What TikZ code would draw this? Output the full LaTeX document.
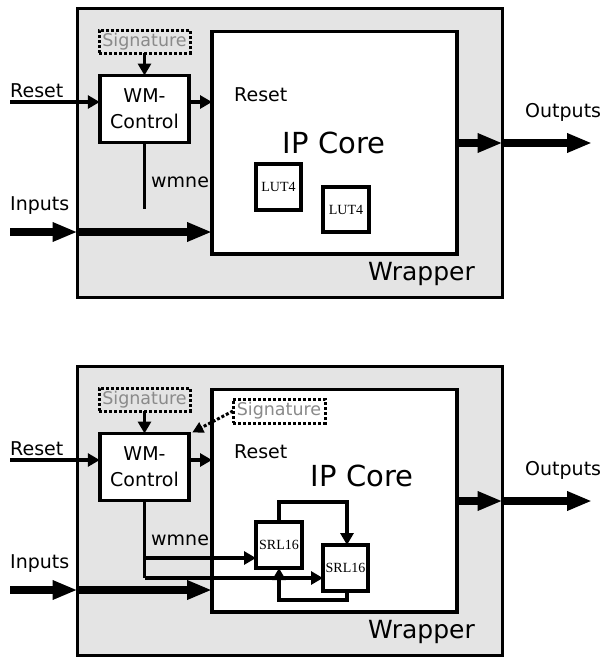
\documentclass[tikz,border=0pt]{standalone}
\usepackage{fontspec}
\setmainfont{DejaVu Sans}
\newfontfamily\cellfont{Liberation Serif}
\usetikzlibrary{arrows.meta}

\definecolor{wrapgray}{RGB}{228,228,228}
\definecolor{siggray}{RGB}{138,138,138}

\tikzset{
  frame/.style={draw, line width=3.6pt, inner sep=0pt, outer sep=0pt},
  wrapbox/.style={frame, fill=wrapgray},
  corebox/.style={frame, fill=white},
  ctrlbox/.style={frame, fill=white, align=center,
    font=\fontsize{19}{26}\selectfont},
  cellbox/.style={frame, fill=white, font=\cellfont\fontsize{14}{16}\selectfont},
  sigbox/.style={draw, line width=3pt, dash pattern=on 3pt off 2pt,
    inner sep=0pt, outer sep=0pt, text=siggray,
    font=\fontsize{17.5}{20}\selectfont},
  lbl/.style={inner sep=0pt, anchor=base west, font=\fontsize{19}{22}\selectfont},
  corelbl/.style={inner sep=0pt, anchor=base, font=\fontsize{29}{32}\selectfont},
  wraplbl/.style={inner sep=0pt, anchor=base west, font=\fontsize{25}{28}\selectfont},
  thin/.style={line width=3.6pt, -{Triangle[length=12pt,width=13pt]}},
  plain/.style={line width=3.6pt},
  bus/.style={line width=8.5pt, -{Triangle[length=25pt,width=18pt]}},
  dotarrow/.style={line width=3pt, dash pattern=on 3pt off 2pt,
    -{Triangle[length=11pt,width=11pt]}},
}

\begin{document}
\begin{tikzpicture}[x=1pt, y=-1pt]
\useasboundingbox (0,0) rectangle (602,657);

% ---------------- upper variant: LUT4 cells ----------------
\node[wrapbox, minimum width=425pt, minimum height=289pt] (wrapA) at (290,153) {};
\node[corebox, minimum width=245pt, minimum height=222.5pt] (ipA) at (334.5,142.75) {};
\node[sigbox, minimum width=91pt, minimum height=23pt] (sigA) at (144.5,41.5) {Signature};
\node[ctrlbox, minimum width=89.5pt, minimum height=67pt] (wmA) at (144.5,109) {WM-\\Control};
\node[cellbox, minimum width=45pt, minimum height=46pt] (lutA) at (278.5,187) {LUT4};
\node[cellbox, minimum width=46pt, minimum height=45pt] (lutB) at (346,209.5) {LUT4};

\node[lbl] (rstA) at (10,97) {Reset};
\node[lbl] (inpA) at (10,210) {Inputs};
\node[lbl] (outA) at (525,117) {Outputs};
\node[lbl] (iprA) at (234,101) {Reset};
\node[lbl] (wmneA) at (151,187) {wmne};
\node[corelbl] (coreA) at (334,153) {IP Core};
\node[wraplbl] (wrlA) at (368,280) {Wrapper};

\coordinate (rstinA) at (10,102);
\coordinate (ininA) at (10,232);
\coordinate (wmneendA) at (144.5,209);
\coordinate (outendA) at (592,143);

\draw[thin] (sigA.south) -- (wmA.north);
\draw[thin] (rstinA) -- (rstinA -| wmA.west);
\draw[thin] (rstinA -| wmA.east) -- (rstinA -| ipA.west);
\draw[plain] (wmA.south) -- (wmneendA);
\draw[bus] (ininA) -- (ininA -| wrapA.west);
\draw[bus] (ininA -| wrapA.west) -- (ininA -| ipA.west);
\draw[bus] (outendA -| ipA.east) -- (outendA -| wrapA.east);
\draw[bus] (outendA -| wrapA.east) -- (outendA);

% ---------------- lower variant: SRL16 cells ----------------
\node[wrapbox, minimum width=425pt, minimum height=289pt] (wrapB) at (290,511) {};
\node[corebox, minimum width=245pt, minimum height=222.5pt] (ipB) at (334.5,500.75) {};
\node[sigbox, minimum width=91pt, minimum height=23pt] (sigB) at (144.5,399.5) {Signature};
\node[sigbox, minimum width=92pt, minimum height=24pt] (sigC) at (279,411) {Signature};
\node[ctrlbox, minimum width=89.5pt, minimum height=67pt] (wmB) at (144.5,467) {WM-\\Control};
\node[cellbox, minimum width=46pt, minimum height=46pt] (srlA) at (279,545) {SRL16};
\node[cellbox, minimum width=45pt, minimum height=46pt] (srlB) at (345.5,568) {SRL16};

\node[lbl] (rstB) at (10,455) {Reset};
\node[lbl] (inpB) at (10,568) {Inputs};
\node[lbl] (outB) at (525,475) {Outputs};
\node[lbl] (iprB) at (234,458) {Reset};
\node[lbl] (wmneB) at (151,545) {wmne};
\node[corelbl] (coreB) at (362,486) {IP Core};
\node[wraplbl] (wrlB) at (368,638) {Wrapper};

\coordinate (rstinB) at (10,460);
\coordinate (ininB) at (10,590);
\coordinate (outendB) at (592,501);
\coordinate (wmnecA) at (144.5,558);
\coordinate (wmnecB) at (144.5,578);
\coordinate (loopTop) at (279,502);
\coordinate (loopBot) at (347,600);

\draw[thin] (sigB.south) -- (wmB.north);
\draw[dotarrow] (sigC.west) -- ([xshift=3pt,yshift=1pt]wmB.north east);
\draw[thin] (rstinB) -- (rstinB -| wmB.west);
\draw[thin] (rstinB -| wmB.east) -- (rstinB -| ipB.west);
\draw[plain] (wmB.south) -- (wmnecB);
\draw[thin] (wmnecA) -- (wmnecA -| srlA.west);
\draw[thin] (wmnecB) -- (wmnecB -| srlB.west);
\draw[thin] (srlA.north) -- (loopTop) -| (loopBot |- srlB.north);
\draw[thin] (loopBot |- srlB.south) -- (loopBot) -| (srlA.south);
\draw[bus] (ininB) -- (ininB -| wrapB.west);
\draw[bus] (ininB -| wrapB.west) -- (ininB -| ipB.west);
\draw[bus] (outendB -| ipB.east) -- (outendB -| wrapB.east);
\draw[bus] (outendB -| wrapB.east) -- (outendB);
\end{tikzpicture}
\end{document}
